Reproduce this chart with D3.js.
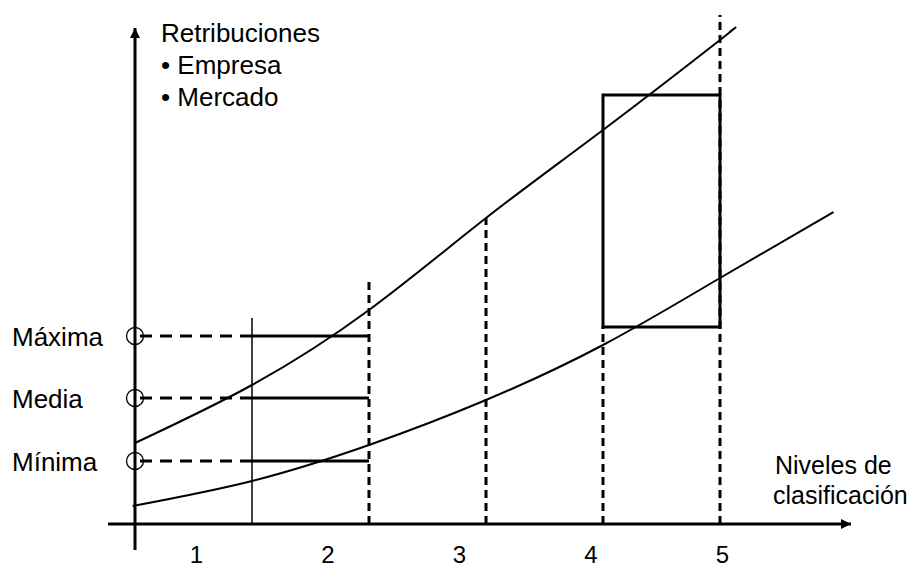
<!DOCTYPE html>
<html>
<head>
<meta charset="utf-8">
<script src="https://cdn.jsdelivr.net/npm/d3@7"></script>
<style>
  body { margin: 0; background: #fff; }
  svg { display: block; }
  text { font-family: "Liberation Sans", Arial, sans-serif; fill: #000; }
</style>
</head>
<body>
<svg id="chart" width="919" height="569"></svg>
<script>
// Niveles de clasificación vs retribuciones (esquema conceptual)
const levels = ['1', '2', '3', '4', '5'];
// curva superior / inferior: [nivel, retribución]
const upperCurve = [[0, 16.2], [1, 27.8], [2, 42.8], [3, 61.2], [4, 78.8], [5, 96.8], [5.08, 98.4]];
const lowerCurve = [[-0.02, 3.6], [1, 8.6], [2, 15.8], [3, 24.8], [4, 35.8], [5, 49.2], [5.97, 62.4]];
// banda del nivel 1-2
const bandNames = ['Máxima', 'Media', 'Mínima'];
const bandValues = [37.6, 25.2, 12.6];
// líneas verticales de separación: [nivel, altura superior]
const dividers = [[2, 49.2], [3, 61.2], [4, 39.4], [5, 101.8]];
const solidDivider = [1, 41.2];
// caja del nivel 4-5
const boxRange = [4, 5, 39.4, 85.8];

const svg = d3.select('#chart');
const x = d3.scaleLinear().domain([0, 6]).range([135, 135 + 6 * 117]);
const y = d3.scaleLinear().domain([0, 100]).range([524, 24]);
const xl = d3.scalePoint().domain(levels).range([196, 722]);

const defs = svg.append('defs');
defs.append('marker').attr('id', 'arr').attr('viewBox', '0 0 10 10')
  .attr('refX', 10).attr('refY', 5).attr('markerWidth', 10).attr('markerHeight', 10)
  .attr('markerUnits', 'userSpaceOnUse').attr('orient', 'auto')
  .append('path').attr('d', 'M0,0L10,5L0,10Z').attr('fill', '#000');

// ejes
svg.append('line').attr('x1', 108).attr('x2', 851).attr('y1', y(0)).attr('y2', y(0))
  .attr('stroke', '#000').attr('stroke-width', 3).attr('marker-end', 'url(#arr)');
svg.append('line').attr('x1', x(0)).attr('x2', x(0)).attr('y1', 550).attr('y2', 28)
  .attr('stroke', '#000').attr('stroke-width', 3).attr('marker-end', 'url(#arr)');

// etiquetas de nivel
const ax = svg.append('g').attr('transform', 'translate(0,546)')
  .call(d3.axisBottom(xl).tickSize(0).tickPadding(0));
ax.select('.domain').remove();
ax.selectAll('text').attr('font-size', 24).attr('font-family', '"Liberation Sans", Arial, sans-serif')
  .attr('dy', '0.71em');

// separadores
svg.append('line').attr('x1', x(solidDivider[0])).attr('x2', x(solidDivider[0]))
  .attr('y1', y(0)).attr('y2', y(solidDivider[1])).attr('stroke', '#000').attr('stroke-width', 1.5);
svg.selectAll('.div').data(dividers).join('line').attr('class', 'div')
  .attr('x1', d => x(d[0])).attr('x2', d => x(d[0]))
  .attr('y1', y(0)).attr('y2', d => y(d[1]))
  .attr('stroke', '#000').attr('stroke-width', 3).attr('stroke-dasharray', '8,5');

// caja
svg.append('rect').attr('x', x(boxRange[0])).attr('y', y(boxRange[3]))
  .attr('width', x(boxRange[1]) - x(boxRange[0])).attr('height', y(boxRange[2]) - y(boxRange[3]))
  .attr('fill', 'none').attr('stroke', '#000').attr('stroke-width', 3);

// bandas
const band = svg.selectAll('.band').data(bandValues).join('g').attr('class', 'band');
band.append('line').attr('x1', x(0) + 5).attr('x2', x(1)).attr('y1', d => y(d)).attr('y2', d => y(d))
  .attr('stroke', '#000').attr('stroke-width', 3).attr('stroke-dasharray', '12,8');
band.append('line').attr('x1', x(1)).attr('x2', x(2)).attr('y1', d => y(d)).attr('y2', d => y(d))
  .attr('stroke', '#000').attr('stroke-width', 3);
band.append('circle').attr('cx', x(0)).attr('cy', d => y(d)).attr('r', 8.5)
  .attr('fill', 'none').attr('stroke', '#000').attr('stroke-width', 1.3);
band.append('text').attr('x', 12).attr('y', d => y(d) + 10).attr('font-size', 26)
  .text((d, i) => bandNames[i]);

// curvas
const line = d3.line().x(d => x(d[0])).y(d => y(d[1])).curve(d3.curveNatural);
[upperCurve, lowerCurve].forEach(c => {
  svg.append('path').attr('d', line(c)).attr('fill', 'none').attr('stroke', '#000').attr('stroke-width', 2);
});

// títulos
const t = svg.append('text').attr('x', 161).attr('y', 42).attr('font-size', 26);
['Retribuciones', '• Empresa', '• Mercado'].forEach((s, i) => {
  t.append('tspan').attr('x', 161).attr('dy', i ? 32 : 0).text(s);
});
const n = svg.append('text').attr('x', 775).attr('y', 474).attr('font-size', 25);
['Niveles de', 'clasificación'].forEach((s, i) => {
  n.append('tspan').attr('x', i ? 773 : 775).attr('dy', i ? 30 : 0).text(s);
});
</script>
</body>
</html>
